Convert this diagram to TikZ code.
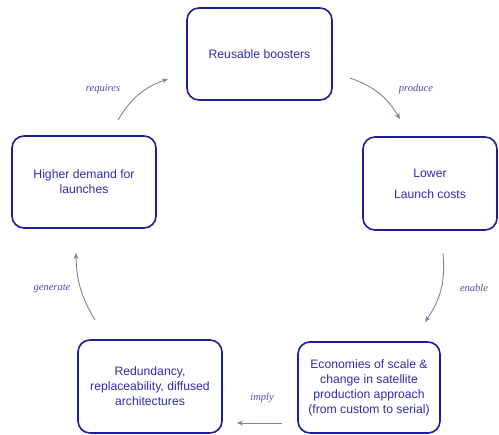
\documentclass[tikz,border=0pt]{standalone}
\usepackage{fontspec}
\setmainfont{Liberation Sans}
\newfontfamily\verbfont{Liberation Serif}
\usetikzlibrary{arrows.meta}

\definecolor{boxblue}{RGB}{30,30,150}
\definecolor{textblue}{RGB}{45,45,170}
\definecolor{arrowgrey}{RGB}{120,135,150}
\definecolor{verbblue}{RGB}{75,75,170}

\begin{document}
\begin{tikzpicture}[x=1pt,y=-1pt,
   box/.style={draw=boxblue,line width=1.6pt,rounded corners=12pt,text=textblue,
     align=center,font=\fontsize{12.2}{15}\selectfont,inner sep=0pt},
   verb/.style={text=verbblue,font=\verbfont\itshape\fontsize{10.5}{12}\selectfont},
   link/.style={draw=arrowgrey,line width=0.9pt,-{Stealth[length=6pt,width=5pt]}}]
   \useasboundingbox (0,0) rectangle (499,435);
   \node[box,minimum width=145pt,minimum height=92pt] (boost) at (259.5,54) {Reusable boosters};
   \node[box,minimum width=134pt,minimum height=93pt] (costs) at (430,183.5) {Lower\\[6pt]Launch costs};
   \node[box,minimum width=142pt,minimum height=91pt] (econ) at (369,387.5)
      {Economies of scale \&\\change in satellite\\production approach\\(from custom to serial)};
   \node[box,minimum width=144pt,minimum height=93pt] (redund) at (150,386.5)
      {Redundancy,\\replaceability, diffused\\architectures};
   \node[box,minimum width=144pt,minimum height=92pt] (demand) at (84,182) {Higher demand for\\launches};
   % verbs
   \node[verb] (l_req) at (103,89) {requires};
   \node[verb] (l_prod) at (416,89) {produce};
   \node[verb] (l_en) at (474,288) {enable};
   \node[verb] (l_imp) at (262,398) {imply};
   \node[verb] (l_gen) at (52,289) {generate};
   % arrow ends
   \coordinate (req_a) at (118,120);  \coordinate (req_b) at (168,79);
   \coordinate (prod_a) at (350,78);  \coordinate (prod_b) at (400,119);
   \coordinate (en_a) at (443,253);   \coordinate (en_b) at (425,322);
   \coordinate (imp_a) at (282,423);  \coordinate (imp_b) at (237,423);
   \coordinate (gen_a) at (95,320);   \coordinate (gen_b) at (76,253);
   \path[every edge/.style={link}]
    (req_a) edge [bend left=20] (req_b)
    (prod_a) edge [bend left=20] (prod_b)
    (en_a) edge [bend left=20] (en_b)
    (imp_a) edge (imp_b)
    (gen_a) edge [bend left=15] (gen_b);
\end{tikzpicture}
\end{document}
